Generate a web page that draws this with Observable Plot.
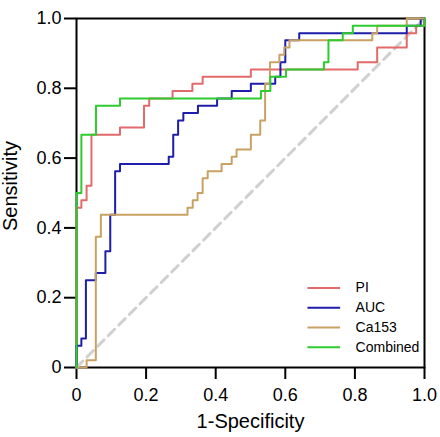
<!DOCTYPE html>
<html>
<head>
<meta charset="utf-8">
<script src="https://cdn.jsdelivr.net/npm/d3@7"></script>
<script src="https://cdn.jsdelivr.net/npm/@observablehq/plot@0.6"></script>
<style>
  html, body { margin: 0; padding: 0; background: #fff; }
  #chart { width: 440px; height: 437px; }
</style>
</head>
<body>
<div id="chart"></div>
<script>
// ---- data ----
const seriesNames = ["PI", "AUC", "Ca153", "Combined"];
const seriesColors = ["#e26a6a", "#1e1eaa", "#c9a263", "#2ecc2e"];

const fprPI = [0, 0, 0.014, 0.029, 0.043, 0.125, 0.194, 0.209, 0.276, 0.333, 0.3625, 0.501, 0.808, 0.864, 0.949, 0.976, 1.0];
const tprPI = [0, 0.458, 0.479, 0.521, 0.667, 0.688, 0.75, 0.771, 0.792, 0.813, 0.833, 0.854, 0.875, 0.917, 0.958, 0.979, 1.0];

const fprAUC = [0, 0, 0.014, 0.027, 0.0555, 0.083, 0.097, 0.111, 0.125, 0.265, 0.278, 0.292, 0.307, 0.349, 0.404, 0.446, 0.501, 0.571, 0.586, 0.600, 0.640, 0.949, 0.989, 1.0];
const tprAUC = [0, 0.0625, 0.083, 0.25, 0.271, 0.333, 0.4375, 0.5625, 0.583, 0.604, 0.667, 0.708, 0.729, 0.75, 0.771, 0.792, 0.813, 0.833, 0.875, 0.9375, 0.958, 0.979, 1.0, 1.0];

const fprCa = [0, 0.029, 0.0555, 0.07, 0.319, 0.334, 0.348, 0.3625, 0.377, 0.417, 0.446, 0.46, 0.501, 0.528, 0.542, 0.556, 0.583, 0.597, 0.612, 0.85, 0.864, 0.949, 1.0];
const tprCa = [0, 0.021, 0.375, 0.4375, 0.458, 0.479, 0.5, 0.542, 0.5625, 0.583, 0.604, 0.625, 0.667, 0.708, 0.813, 0.875, 0.896, 0.917, 0.9375, 0.958, 0.979, 1.0, 1.0];

const fprComb = [0, 0, 0.014, 0.056, 0.125, 0.530, 0.557, 0.602, 0.711, 0.724, 0.765, 0.794, 1.0];
const tprComb = [0, 0.5, 0.667, 0.75, 0.771, 0.792, 0.833, 0.854, 0.875, 0.938, 0.958, 0.979, 1.0];

const refX = [0, 1];
const refY = [0, 1];

const tickValues = [0, 0.2, 0.4, 0.6, 0.8, 1.0];
const tickLabels = ["0", "0.2", "0.4", "0.6", "0.8", "1.0"];

// ---- build rows ----
const zip = (xs, ys) => xs.map((x, i) => ({fpr: x, tpr: ys[i]}));
const curves = [
  zip(fprPI, tprPI),
  zip(fprAUC, tprAUC),
  zip(fprCa, tprCa),
  zip(fprComb, tprComb)
];
const refRows = zip(refX, refY);

// legend layout (in plot units)
const legendX1 = 0.665, legendX2 = 0.759, legendTextX = 0.802;
const legendTop = 0.228, legendStep = 0.0567;
const legendRows = seriesNames.map((name, i) => ({
  name, color: seriesColors[i], y: legendTop - i * legendStep
}));

const font = "'Liberation Sans', Arial, Helvetica, sans-serif";

const chart = Plot.plot({
  width: 440,
  height: 437,
  marginLeft: 76,
  marginRight: 16,
  marginTop: 18,
  marginBottom: 70,
  style: {fontFamily: font, fontSize: "18px", background: "#fff", color: "#000", overflow: "visible"},
  x: {
    domain: [0, 1],
    ticks: tickValues,
    tickFormat: d => tickLabels[tickValues.indexOf(d)] ?? d,
    tickSize: 12,
    tickPadding: 9,
    label: null
  },
  y: {
    domain: [0, 1],
    ticks: tickValues,
    tickFormat: d => tickLabels[tickValues.indexOf(d)] ?? d,
    tickSize: 12,
    tickPadding: 3,
    label: null
  },
  marks: [
    Plot.frame({stroke: "#000", strokeWidth: 2}),
    Plot.line(refRows, {x: "fpr", y: "tpr", stroke: "#d0d0d0", strokeWidth: 3, strokeDasharray: "9,6"}),
    ...curves.map((rows, i) =>
      Plot.line(rows, {x: "fpr", y: "tpr", stroke: seriesColors[i], strokeWidth: 2, curve: "step-after"})
    ),
    // legend
    Plot.ruleY(legendRows, {y: "y", x1: legendX1, x2: legendX2, stroke: "color", strokeWidth: 2}),
    Plot.text(legendRows, {x: legendTextX, y: "y", text: "name", textAnchor: "start", fontSize: 14, fill: "#000"}),
    // axis titles
    Plot.text(["1-Specificity"], {frameAnchor: "bottom", text: d => d, dy: 60, fontSize: 20, fill: "#000"}),
    Plot.text(["Sensitivity"], {frameAnchor: "left", text: d => d, rotate: -90, dx: -66, dy: 38, fontSize: 20, fill: "#000"})
  ]
});

document.getElementById("chart").appendChild(chart);

// thicker tick marks like the reference
d3.select(chart).selectAll('g[aria-label$="tick"] path, g.tick line').attr("stroke-width", 2);
</script>
</body>
</html>
